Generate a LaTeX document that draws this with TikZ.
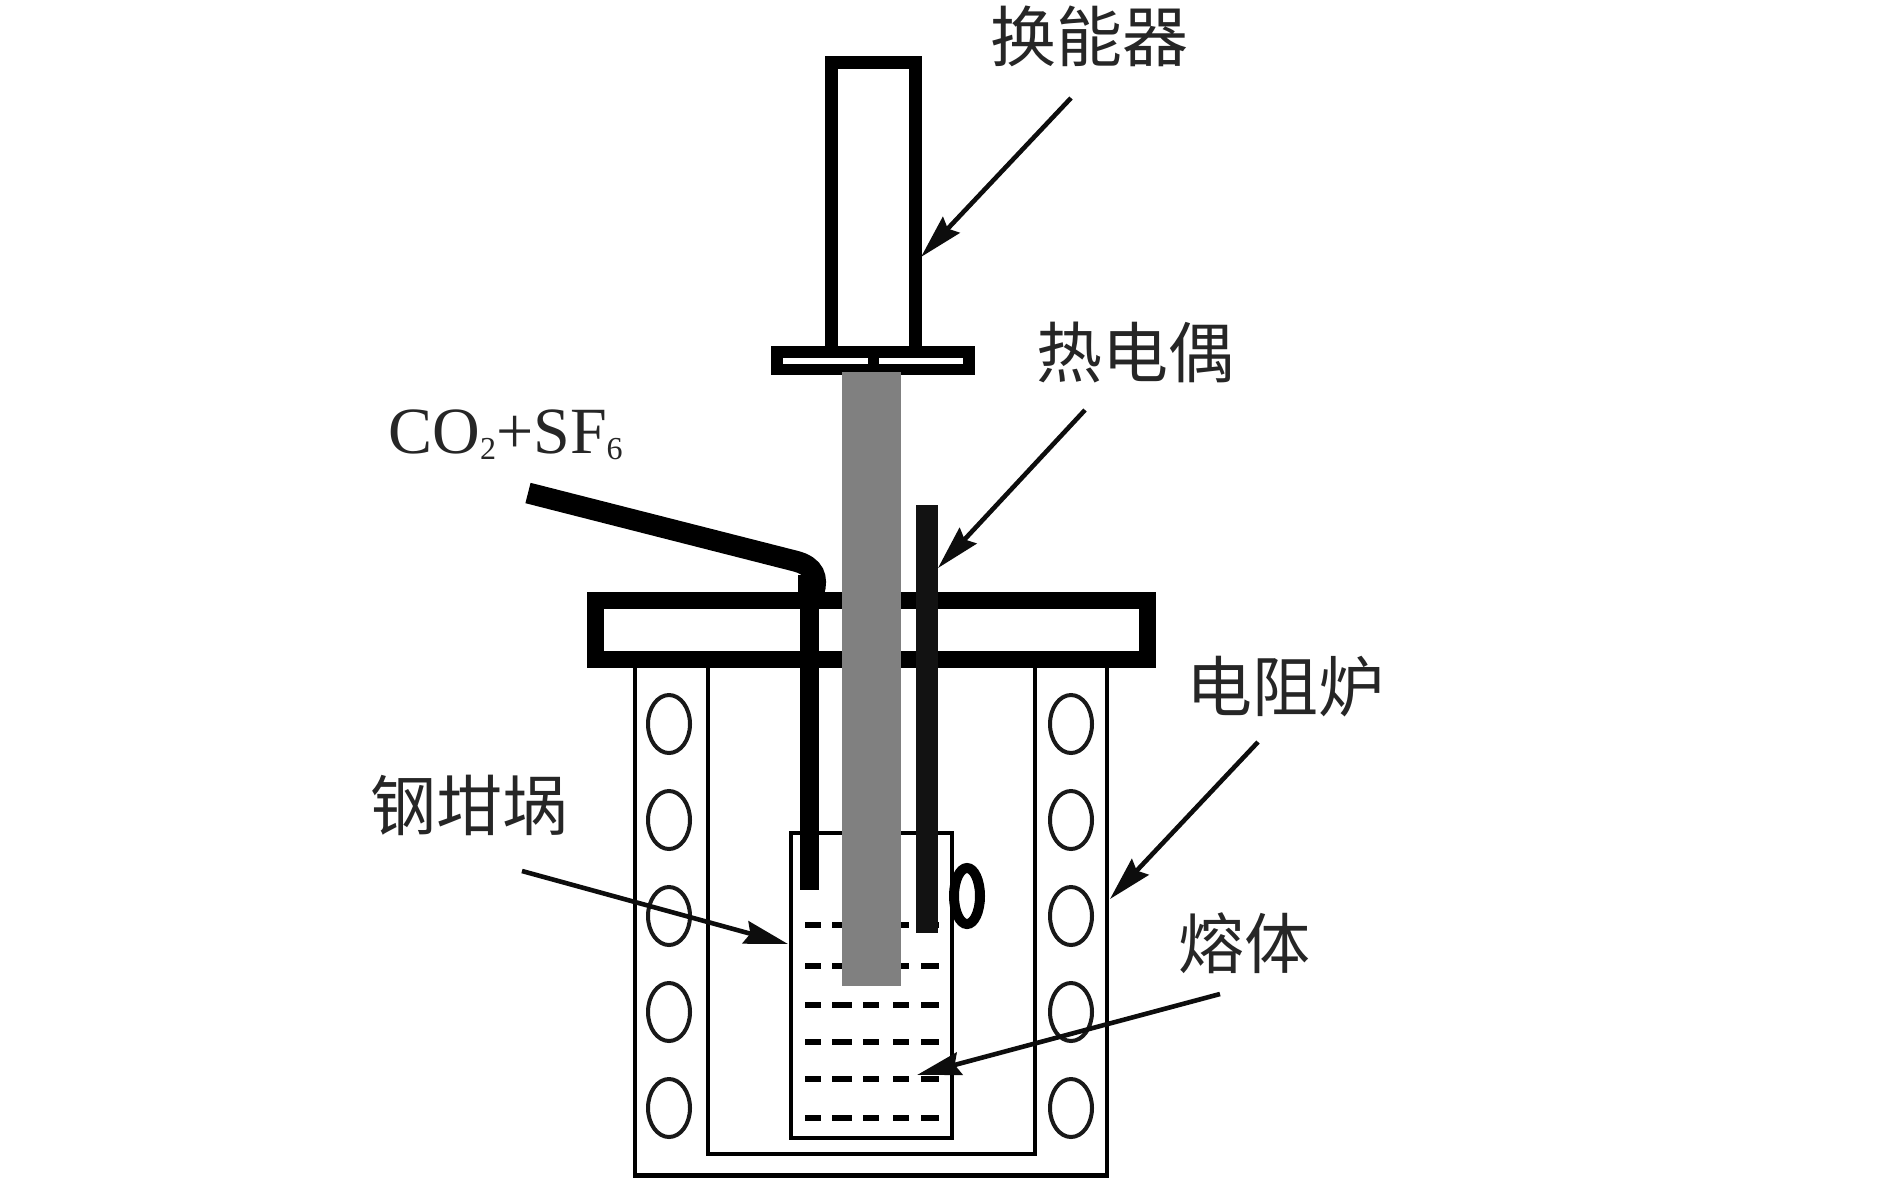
\documentclass[tikz,border=0pt]{standalone}
\usepackage{fontspec}
\setmainfont{Liberation Serif}
\newfontfamily\cjk{Noto Sans CJK SC}
\usetikzlibrary{arrows.meta}
\tikzset{
  px/.style={x=0.5pt,y=-0.5pt},
  wall/.style={draw=black,line width=2.4pt,fill=white},
  thick wall/.style={draw=black,line width=8.5pt,line join=miter},
  coil/.style={draw=black!90,line width=2pt},
  rod/.style={fill=black!50,draw=none},
  probe/.style={fill=black!93,draw=none},
  pipe/.style={draw=black,line width=9.5pt},
  melt/.style={draw=black,line width=2.8pt},
  pointer/.style={draw=black!95,line width=2.3pt,-{Stealth[length=22pt,width=11.5pt,inset=2.5pt]}},
  zh/.style={font=\cjk\fontsize{33}{33}\selectfont,inner sep=0pt,text=black!85},
  en/.style={font=\fontsize{33}{33}\selectfont,inner sep=0pt,text=black!85}
}
\begin{document}
\begin{tikzpicture}[px]
\useasboundingbox (0,0) rectangle (1889,1179);
\fill[white] (0,0) rectangle (1889,1179);
% furnace and crucible
\draw[wall] (635,668) -- (635,1175.5) -- (1107,1175.5) -- (1107,668);
\draw[wall] (708,668) -- (708,1154) -- (1035,1154) -- (1035,668);
\draw[wall,line width=2pt] (791,833) rectangle (952,1138);
% heating coils
\foreach \cy in {724,820,916,1012,1108}{
  \draw[coil] (669,\cy) ellipse [x radius=21,y radius=29];
  \draw[coil] (1071,\cy) ellipse [x radius=21,y radius=29];
}
% melt
\foreach \ry in {925,966,1005,1042,1079,1118}{
  \foreach \xa/\xb in {805/821,832/852,863/879,893/909,921/939}{
    \draw[melt] (\xa,\ry) -- (\xb,\ry);
  }
}
\draw[black,line width=5pt] (967,896) ellipse [x radius=13,y radius=28];
% lid
\draw[thick wall,fill=white] (595.5,600.5) rectangle (1147,659.5);
% transducer
\draw[thick wall,line width=6.5pt] (831.5,350) -- (831.5,62) -- (915,62) -- (915,350);
\fill[black] (771,346) rectangle (975,375);
\fill[white] (783,358) rectangle (868,364);
\fill[white] (879,358) rectangle (963,364);
% gas pipe
\draw[pipe,line width=10.5pt] (528,493) -- (795,561) .. controls (815,566) and (818,578) .. (814,592);
\fill[black] (798,575) rectangle (818,600);
\draw[pipe] (809,590) -- (809,890);
% rod and thermocouple
\fill[rod] (842,372) rectangle (901,986);
\fill[probe] (916,505) rectangle (938,933);
% labels
\node[zh] (transducer) at (1089,36) {\cjk 换能器};
\node[zh] (thermo) at (1135,353) {\cjk 热电偶};
\node[zh] (furnace) at (1285,687) {\cjk 电阻炉};
\node[zh] (crucible) at (469,805) {\cjk 钢坩埚};
\node[zh] (meltlabel) at (1244,943) {\cjk 熔体};
\node[en,anchor=base west] (gas) at (388,453) {CO\raisebox{-3pt}{\fontsize{16}{16}\selectfont 2}+SF\raisebox{-3pt}{\fontsize{16}{16}\selectfont 6}};
% pointers
\coordinate (a1) at (1071,98);  \coordinate (t1) at (921,257);
\coordinate (a2) at (1085,410); \coordinate (t2) at (938,568);
\coordinate (a3) at (1258,742); \coordinate (t3) at (1110,899);
\coordinate (a4) at (522,871);  \coordinate (t4) at (788,944);
\coordinate (a5) at (1220,994); \coordinate (t5) at (917,1075);
\draw[pointer] (a1) -- (t1);
\draw[pointer] (a2) -- (t2);
\draw[pointer] (a3) -- (t3);
\draw[pointer] (a4) -- (t4);
\draw[pointer] (a5) -- (t5);
\end{tikzpicture}
\end{document}
